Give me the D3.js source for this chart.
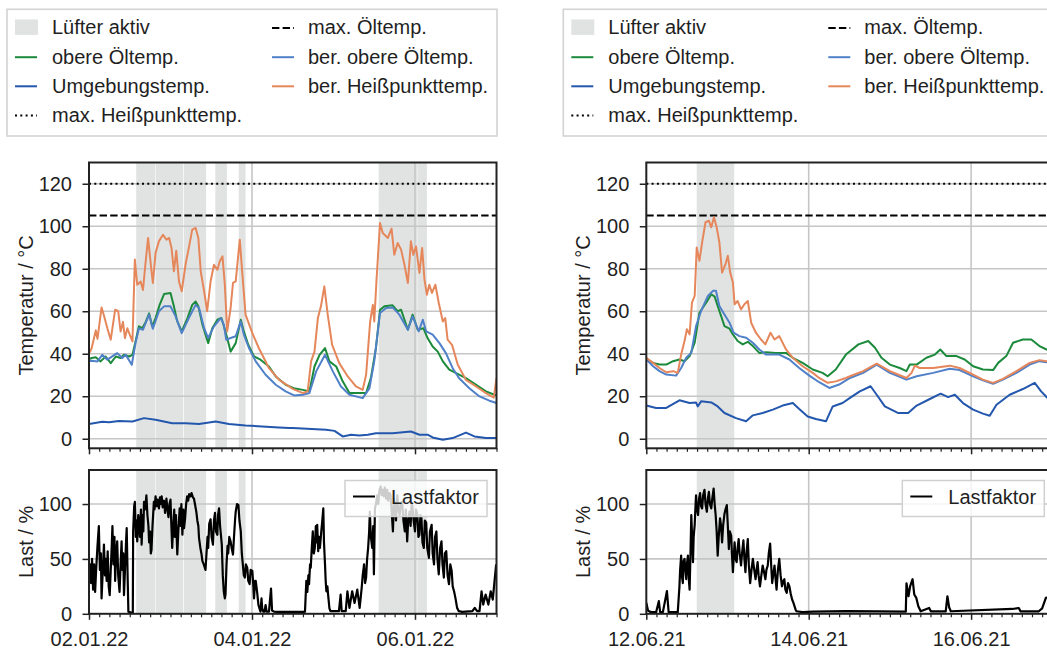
<!DOCTYPE html>
<html><head><meta charset="utf-8">
<script src="https://cdn.jsdelivr.net/npm/d3@7"></script>
<style>
body{margin:0;background:#fff}
svg{display:block}
text{font-family:"Liberation Sans",Arial,Helvetica,sans-serif;fill:#1f1f1f}
</style>
</head><body>
<svg id="chart" width="1047" height="650"></svg>
<script>
// ---------- DATA (hour offset from first tick, value) ----------
const leftTickLabels  = ["02.01.22","04.01.22","06.01.22"];
const rightTickLabels = ["12.06.21","14.06.21","16.06.21"];
const tempTicks = [0,20,40,60,80,100,120];
const loadTicks = [0,50,100];
const maxOilTemp = 105;
const maxHotTemp = 120;

const legendLabels = ["Lüfter aktiv","obere Öltemp.","Umgebungstemp.","max. Heißpunkttemp.","max. Öltemp.","ber. obere Öltemp.","ber. Heißpunkttemp."];
const loadLegendLabel = "Lastfaktor";

// fan active spans [startHour, endHour]
const leftFan  = [[13.9,19.5],[19.65,27.7],[27.9,34.5],[37.2,40.6],[44.1,46.1],[85.3,96.8],[96.9,99.5]];
const rightFan = [[14.9,26.0]];

// Left (January) ---------------------------------------------
const leftOil = [[0,37.5],[0.8,38],[2,38.3],[3.4,36.4],[4.9,38.7],[6.4,35.6],[7.9,38.7],[9.3,38],[10.3,39.5],[11.8,38.7],[12.8,39.5],[13.7,45.8],[14.7,52.9],[15.7,52],[16.7,55],[17.7,59],[18.6,52.9],[19.6,56.8],[20.8,63],[22.1,68.1],[24,68.6],[25,62.3],[26,55.2],[27.3,50.5],[29,56.8],[30.4,63],[31.4,64.6],[32.2,62.3],[33.4,53.7],[35.1,45],[36.3,52],[37.8,56],[39,56.8],[40.2,50.5],[41.7,41],[43.2,45],[44.7,56],[45.6,50.5],[46.9,44.2],[48.6,38.7],[50.5,37.2],[53,34],[55,29.3],[57.9,25.4],[60.3,23.8],[63,23],[64.9,22.3],[66.4,34],[67.9,39.5],[69.5,42.7],[70.8,36.4],[72.8,34],[74.7,27],[76.7,21.5],[79.6,21.5],[81.6,21.5],[83,28.5],[84.5,42.7],[85.7,60.7],[87,62.3],[89.4,62.8],[90.9,60],[91.9,60.7],[93.9,51.3],[95.3,58.4],[96.8,51.3],[98.5,52],[99.7,47.4],[101.2,43.4],[102.7,41],[104.2,36.4],[106.1,32.5],[108.1,30.9],[111,28.5],[114,25.4],[116.9,22.3],[119.4,20.7],[120,20.5]];
const leftAmb = [[0,6.9],[3.9,8],[5.9,7.8],[8.8,8.4],[12.8,8.1],[16.2,9.7],[19.6,8.9],[24.5,7.3],[28.5,7.3],[32.4,6.9],[37.3,8.1],[41.2,6.9],[46.1,6.2],[51,5.8],[55.9,5.3],[58.9,5],[60,5],[69.8,4.2],[72.3,3.7],[74.7,1.1],[77.2,1.9],[79.6,1.5],[82.1,1.9],[84.5,2.6],[89.4,2.6],[94.8,3.4],[97.3,1.9],[99.7,1.9],[101.2,0.6],[104.2,-0.5],[107.1,0.3],[111,2.9],[113.5,1.1],[116.9,0.3],[120,0.3]];
const leftCalcOil = [[0,36.5],[0.8,36.7],[2.5,36.4],[3.9,39.5],[5.4,37.2],[8.3,40.3],[9.8,38],[10.8,39.5],[12.6,34.8],[13.7,45],[14.7,52],[15.9,51.3],[17.7,58.4],[18.8,51.8],[20.6,60],[22.1,62.3],[24,62.3],[25.5,57.6],[27.3,49.7],[29.4,56.8],[31.4,63],[32.4,61.5],[33.9,52],[35.1,47.4],[36.8,52.9],[38.8,56.8],[39.7,53.7],[40.4,46.6],[41.7,47.4],[43.2,48.2],[44.7,55.2],[45.6,49],[47.1,42.7],[49.1,36.4],[52,30.1],[55,25.4],[57.9,22.3],[60.4,20.4],[63,20.7],[64.9,21.5],[66.9,31.7],[69.5,39.5],[71.8,31.7],[74.2,24.6],[76.7,20.7],[80.6,19.1],[82.6,23.8],[84,36.4],[85.7,59.2],[87.5,61.5],[89.4,61.8],[91.4,58.4],[93.9,51.3],[95.3,57.6],[97.1,50.5],[98.3,56],[99.3,50.5],[101.2,49],[103.2,45],[105.1,40.3],[107.1,33.2],[109,28.5],[112,23.8],[115,19.9],[117.9,17.9],[120,16.8]];
const leftCalcHot = [[0,40],[0.8,42.7],[2,51],[2.5,47],[3.7,61.8],[4.4,58],[5.4,52],[6.4,46.6],[7.7,60.7],[8.6,60],[9.3,50.5],[10,55],[10.6,47.4],[11.3,52],[12,49],[12.8,45.8],[13.5,84.3],[14.2,72.5],[15.2,74],[15.9,70],[16.5,80.3],[17.4,94.5],[18.2,82],[18.8,73.3],[19.6,87.4],[20.6,93],[21.8,96],[22.8,93.7],[23.6,94.5],[24.3,89.8],[25,78.8],[25.7,88.5],[26.5,74],[27.3,69.4],[28.5,82.7],[29.4,89.8],[30.4,98.4],[31.4,99.2],[32.2,94.5],[32.9,78.8],[33.9,69.4],[34.8,60],[35.8,74],[36.8,81.9],[37.8,79.5],[38.5,83.5],[39.3,85.8],[40,72.5],[40.7,50.5],[41.7,61.5],[42.4,73.3],[43.2,74],[44.4,93.7],[45.1,78.8],[46.1,58.4],[48.1,49.7],[50,42.7],[53,33.2],[56,27.7],[60,23.5],[63,21.5],[64.4,22.3],[65.4,36.4],[66.4,41],[67.4,56.8],[68.3,62.3],[69.3,71.7],[70.3,58.4],[71.6,44.2],[73.7,35.6],[76.2,29.3],[78.6,24.6],[80.6,23],[81.6,30.1],[82.8,55.2],[83.6,63],[84,55.2],[84.7,75.6],[85.7,101.5],[86.5,96.8],[88,94.5],[89.1,98.9],[89.9,86.6],[90.9,92.1],[91.9,89],[92.9,81.9],[93.9,73.3],[94.8,92.9],[95.5,86.6],[96.3,90.5],[97.3,78],[98.1,89.8],[98.8,74.8],[99.5,67.8],[100.2,72.5],[101,68.6],[102,72.5],[103,63.9],[104.2,55.2],[104.9,56.8],[105.6,46.6],[106.9,44.2],[108.6,34.8],[111,27.7],[114,24.6],[116.9,21.5],[119.2,19.4],[120,28.5]];
const leftLoad = [[0,30],[0.3,45],[0.6,28],[0.9,50],[1.2,22],[1.5,45],[1.8,20],[2.1,40],[2.5,62],[2.9,80],[3.2,40],[3.5,55],[3.7,14],[4,35],[4.4,63],[4.7,35],[4.9,50],[5.2,30],[5.5,57],[5.8,25],[6.1,17],[6.4,40],[6.7,62],[6.9,80],[7.2,45],[7.5,70],[7.7,30],[8,55],[8.3,66],[8.6,35],[9,20],[9.3,45],[9.6,66],[9.8,40],[10.1,55],[10.3,17],[10.6,40],[10.9,65],[11.1,78],[11.4,30],[11.6,2],[12.5,1],[12.9,1],[13,75],[13.3,98],[13.5,102],[13.8,70],[14,85],[14.2,66],[14.5,90],[14.7,84],[15,70],[15.3,95],[15.5,63],[15.8,90],[16,75],[16.2,102],[16.5,95],[16.9,108],[17.2,90],[17.5,80],[17.7,65],[18,75],[18.2,55],[18.4,58],[18.7,80],[19.1,102],[19.3,95],[19.6,107],[19.9,98],[20.2,104],[20.6,96],[20.9,106],[21.1,100],[21.4,107],[21.7,97],[22.1,103],[22.4,92],[22.8,105],[23.1,95],[23.4,88],[23.7,100],[24,104],[24.2,85],[24.5,60],[24.8,80],[25.1,95],[25.3,70],[25.6,90],[26,54],[26.3,75],[26.7,96],[27,80],[27.2,100],[27.5,72],[27.8,95],[28,78],[28.3,87],[28.6,100],[28.9,107],[29.2,103],[29.5,109],[29.9,107],[30.2,110],[30.6,106],[30.9,105],[31.2,100],[31.6,93],[31.9,85],[32.2,80],[32.4,69],[32.8,60],[33.1,55],[33.4,48],[33.8,45],[34.3,40],[34.6,55],[34.9,70],[35.1,60],[35.4,82],[35.8,86],[36.1,70],[36.5,63],[36.8,85],[37.1,92],[37.4,75],[37.8,72],[38,90],[38.3,96],[38.6,80],[38.9,70],[39.1,63],[39.4,35],[39.7,20],[40,14],[40.2,18],[40.5,45],[40.8,62],[41,55],[41.3,70],[41.7,66],[42,60],[42.4,54],[42.7,70],[43,85],[43.2,93],[43.6,100],[44,99],[44.3,85],[44.7,75],[45,55],[45.3,45],[45.6,35],[45.9,33],[46.2,45],[46.6,42],[46.9,30],[47.3,27],[47.6,40],[48.1,39],[48.4,25],[48.6,14],[48.9,30],[49.1,30],[49.5,20],[49.9,8],[50.2,5],[50.5,2],[50.8,14],[51,5],[51.3,2],[51.7,2],[52,8],[52.3,2],[53,2],[53.6,23],[53.9,3],[54.5,2],[55.4,1.8],[58.9,1.8],[63.6,1.8],[64,30],[64.3,20],[64.6,35],[64.8,27],[65.1,45],[65.3,42],[65.6,60],[65.9,75],[66.2,55],[66.5,60],[66.8,80],[67,65],[67.2,81],[67.5,57],[67.7,70],[68,60],[68.4,75],[68.7,85],[69,96],[69.2,65],[69.5,45],[69.7,30],[69.9,20.5],[70.2,25],[70.5,14.5],[70.8,5],[71.1,2.4],[73.6,2.4],[74.1,17.5],[74.4,2.4],[75.6,2.4],[76.1,20.5],[76.7,5.4],[77.5,20.5],[78.2,9.9],[79,22],[79.7,5.4],[80.3,23.6],[80.6,35],[81,45],[81.3,28],[81.6,33],[81.9,50],[82.2,60],[82.5,75],[82.7,93],[83,70],[83.4,60],[83.7,80],[83.9,36],[84.2,96],[84.5,100],[84.9,108],[85.2,100],[85.5,112],[85.9,116],[86.2,108],[86.5,113],[86.8,107],[87.1,115],[87.5,105],[87.8,113],[88.1,103],[88.5,110],[88.8,108],[89.1,95],[89.5,75],[89.8,105],[90.1,99],[90.4,85],[90.8,108],[91.1,95],[91.5,90],[91.8,100],[92.2,102],[92.6,85],[93,75],[93.3,95],[93.7,66],[94,85],[94.4,93],[94.7,80],[95,99],[95.2,99],[95.6,85],[96,75],[96.3,95],[96.7,90],[97,70],[97.3,72],[97.6,90],[97.9,87],[98.2,65],[98.6,60],[98.9,85],[99.3,83],[99.6,60],[100.1,51],[100.4,75],[100.9,81],[101.2,55],[101.6,45],[101.9,70],[102.3,75],[102.6,50],[103,36],[103.4,60],[103.8,66],[104.1,45],[104.5,33],[104.8,55],[105.2,57],[105.6,35],[106,27],[106.4,45],[106.8,39],[107.1,25],[107.5,20.5],[107.9,14.5],[108.4,5.4],[108.9,2.4],[109.9,1.8],[112.9,2.4],[113.6,5.4],[114.3,2.4],[115,2.4],[115.6,20.5],[116.1,8.4],[116.8,17.5],[117.6,8.4],[118.3,20.5],[118.9,13],[119.9,45]];

// Right (June) -----------------------------------------------
const rightOil = [[0,37.6],[2,35.7],[3.9,34.9],[5.9,34.9],[7.9,36.5],[9.8,37.3],[11.3,36.5],[12.8,38.9],[14.3,45.2],[15.7,59.3],[17.7,64],[19.2,68],[20.2,66.9],[21.1,62.5],[22.1,57.8],[23.1,53],[24.6,51.8],[25.6,49.1],[27,46],[28.5,44.4],[30,45.6],[31.5,43.6],[33.4,40.4],[35.4,40.7],[38.3,40.4],[41.3,40.4],[43.3,38.1],[46.2,35.7],[49.2,32.6],[52.1,31],[53.6,29.4],[56,32.6],[59,39.6],[60.2,41.2],[62.7,44.4],[65.6,46],[67.6,42.8],[69.5,38.1],[72,34.9],[74.9,33.3],[76.9,31.8],[77.9,34.9],[79.9,34.9],[82.8,38.1],[85.3,39.6],[86.9,42],[88.7,38.9],[91.7,38.9],[94.1,37.3],[96.6,34.1],[99.5,32.6],[102.5,32.3],[104,35.7],[106.4,38.9],[108.4,45.2],[111.3,46.7],[113.8,46.7],[116.2,43.6],[118.3,42],[120,41.5]];
const rightAmb = [[0,15.6],[2.9,14.5],[5.9,14.5],[9.8,18.1],[12.8,16.8],[14.7,17.1],[15.2,15.2],[16.2,17.6],[19.2,17.1],[21.1,15.2],[23.1,12.1],[26.5,9.7],[29.5,8.2],[31.5,11],[34.4,12.1],[37.4,13.7],[40.3,15.6],[43.3,16.8],[45.2,14],[47.7,10.5],[50.1,9.3],[53.1,8.2],[55.1,15.2],[58,16.8],[60.2,19.2],[63.1,22.3],[66.3,24.7],[68.1,20.7],[70.5,15.2],[74.5,12.1],[77.4,12.1],[79.9,15.6],[83.8,18.7],[87,21.2],[89.2,19.6],[91.2,20.7],[93.6,16.8],[96.6,13.7],[99.5,11.8],[101.5,10.8],[103.5,16],[107.4,20.7],[111.3,23.4],[114.8,26.3],[116.7,22.3],[118.3,19.6],[120,17.5]];
const rightCalcOil = [[0,37.3],[2,34.1],[3.9,31.8],[5.9,30.2],[8.8,29.7],[10.3,33.3],[11.8,38.1],[13.3,40.4],[14.7,53],[16.2,60.1],[18.2,67.2],[19.7,69.6],[20.6,69.6],[21.6,62.5],[23.1,58.5],[24.6,54.6],[25.8,49.9],[27.5,48.3],[29.5,47.5],[31.5,45.2],[33.4,42],[35.4,39.6],[39.3,39.6],[42.3,37.3],[45.2,33.3],[48.2,29.7],[51.1,26.6],[54.1,23.9],[57,25.5],[60.2,28.6],[64.1,31],[68.1,34.9],[72,31],[76.9,27.8],[79.9,29.4],[84.8,31],[89.7,32.9],[92.6,32.3],[96.6,29.4],[99.5,27.5],[102.5,25.9],[105.4,27.8],[109.4,31],[113.3,34.9],[116.2,36.5],[118.3,36],[120,35.8]];
const rightCalcHot = [[0,38.1],[2,35.7],[3.9,33.3],[5.9,31.3],[7.9,31.8],[9.3,31],[10.3,39.6],[11.3,46],[12,51.5],[12.8,49.1],[13.5,64],[14.3,67.2],[14.9,90],[15.7,83.7],[16.5,92.4],[17.5,101.9],[18.5,102.6],[19.2,99.5],[20,104.2],[20.8,99.5],[21.6,92.4],[22.4,78.2],[23.4,82.2],[24.1,86.1],[24.8,78.2],[25.6,73.5],[26.1,63.3],[27,64.8],[28,60.9],[29,63.3],[30,64.8],[31,54.6],[32.4,49.9],[33.9,46.7],[35.2,44.4],[36.7,49.9],[37.9,46.7],[39.3,48.3],[41.3,42],[43.3,38.1],[46.2,34.1],[49.2,31],[51.1,28.6],[53.6,26.3],[56,27],[59,28.6],[60.2,29.4],[64.1,31.8],[68.1,35.4],[72,31.8],[76.9,28.6],[78.4,31],[79.4,34.4],[80.8,33.3],[84.8,33.3],[89.7,34.4],[92.6,33.3],[96.6,30.2],[99.5,27.8],[102.5,26.3],[105.4,28.2],[109.4,31.8],[113.3,35.7],[116.2,37],[118.3,36.5],[120,36.3]];
const rightLoad = [[0,10],[0.5,3],[1,2],[1.5,1.5],[2.9,1.5],[3.7,11.5],[4.1,1.5],[4.9,1.5],[6.1,20.7],[6.6,1.5],[9.3,1.5],[9.8,25],[10,40],[10.3,53],[10.5,35],[10.8,28],[11,48],[11.3,50],[11.6,38],[11.8,31.5],[12,45],[12.3,53],[12.6,30],[12.8,22],[13.1,60],[13.3,90],[13.6,65],[13.8,47],[14,70],[14.3,81],[14.5,95],[14.7,108],[15,95],[15.3,90],[15.6,105],[15.9,110],[16.2,98],[16.5,96],[16.8,108],[17.2,113],[17.5,100],[17.9,93],[18.2,105],[18.5,111],[18.8,100],[19.2,96],[19.5,105],[19.9,114],[20.2,100],[20.5,90],[20.8,75],[21.1,53],[21.4,70],[21.8,87],[22.1,80],[22.4,65],[22.7,80],[23.1,91],[23.4,95],[23.8,99],[24.1,80],[24.4,59],[24.7,75],[25.1,71],[25.3,55],[25.6,38],[25.9,55],[26.1,65],[26.4,50],[26.7,47],[27,60],[27.3,68],[27.6,55],[28,44],[28.3,55],[28.7,67],[29,50],[29.3,38],[29.6,55],[30,68],[30.3,45],[30.7,28],[31.1,40],[31.5,50],[31.9,40],[32.3,31.5],[32.6,40],[32.9,47],[33.2,35],[33.6,25],[34,35],[34.4,44],[34.8,38],[35.2,31.5],[35.5,40],[35.9,44],[36.2,55],[36.6,64],[36.9,45],[37.2,28],[37.5,35],[37.9,44],[38.2,32],[38.5,22],[38.9,40],[39.3,50],[39.7,35],[40.1,25],[40.5,30],[40.8,31.5],[41.1,22],[41.5,19],[41.9,28],[42.3,25],[42.7,18],[43.1,13],[43.5,10],[43.8,7],[44.1,4],[44.4,2.3],[46.2,1.6],[49.2,2],[59,2.5],[68.8,2.3],[76.7,2],[76.9,27.8],[77.5,16],[78,25.3],[78.7,31.5],[79.2,17.6],[79.8,14.5],[80.4,6.9],[81.1,2.3],[83.6,5.3],[84.1,2.3],[88.5,2.3],[89,16],[89.5,6],[90,2.3],[108.2,4.4],[110.1,5.3],[110.6,2.3],[116,2.3],[117,5],[118.1,14.5],[120,16]];

// ---------- DRAWING ----------
const svg = d3.select("#chart");
const parseTick = d3.utcParse("%d.%m.%y");
const fmtTick = d3.utcFormat("%d.%m.%y");
const C = {oil:"#1b8a3b", amb:"#2357ad", calcOil:"#5080c8", hot:"#e5875b", fan:"#e1e3e3", grid:"#c6c6c6", ink:"#222"};

function drawSet(cfg){
  const PW = cfg.width;
  const L = cfg.left, R = L + PW;
  const start = parseTick(cfg.ticks[0]);
  const toDate = h => new Date(start.getTime() + h*3600e3);
  const x = d3.scaleUtc().domain([start, toDate(120)]).range([L, R]);
  const majors = cfg.ticks.map(parseTick);
  const minors = d3.utcHour.every(3).range(start, toDate(120.01));

  const panels = [
    {key:"top", y: d3.scaleLinear().domain([-4.5,130]).range([448.3,162.5]), ticks: tempTicks, label:"Temperatur / °C", showX:false},
    {key:"bot", y: d3.scaleLinear().domain([0,131]).range([613.8,470]), ticks: loadTicks, label:"Last / %", showX:true}
  ];

  panels.forEach(p => {
    const y = p.y, T = y.range()[1], B = y.range()[0];
    const clipId = "clip-" + cfg.id + "-" + p.key;
    svg.append("clipPath").attr("id", clipId).append("rect")
      .attr("x", L).attr("y", T).attr("width", PW).attr("height", B - T);
    const g = svg.append("g");
    const pg = g.append("g").attr("clip-path", `url(#${clipId})`);

    pg.selectAll("rect.fan").data(cfg.fan).join("rect")
      .attr("x", d => x(toDate(d[0]))).attr("width", d => x(toDate(d[1])) - x(toDate(d[0])))
      .attr("y", T).attr("height", B - T).attr("fill", C.fan);
    pg.selectAll("line.gy").data(p.ticks).join("line")
      .attr("x1", L).attr("x2", R).attr("y1", d => y(d)).attr("y2", d => y(d))
      .attr("stroke", C.grid).attr("stroke-width", 1.6);
    pg.selectAll("line.gx").data(majors).join("line")
      .attr("x1", d => x(d)).attr("x2", d => x(d)).attr("y1", T).attr("y2", B)
      .attr("stroke", C.grid).attr("stroke-width", 1.6);

    const line = d3.line().x(d => x(toDate(d[0]))).y(d => y(d[1]));
    const addLine = (data, color, w) => pg.append("path").datum(data).attr("d", line)
      .attr("fill","none").attr("stroke", color).attr("stroke-width", w).attr("stroke-linejoin","round");

    if (p.key === "top") {
      addLine(cfg.oil, C.oil, 2);
      addLine(cfg.amb, C.amb, 2);
      pg.append("line").attr("x1",L).attr("x2",R).attr("y1",y(maxHotTemp)).attr("y2",y(maxHotTemp))
        .attr("stroke","#000").attr("stroke-width",2).attr("stroke-dasharray","2,3.3");
      pg.append("line").attr("x1",L).attr("x2",R).attr("y1",y(maxOilTemp)).attr("y2",y(maxOilTemp))
        .attr("stroke","#000").attr("stroke-width",2).attr("stroke-dasharray","7.4,3.2");
      addLine(cfg.calcOil, C.calcOil, 2);
      addLine(cfg.hot, C.hot, 2);
    } else {
      addLine(cfg.load, "#000", 2.2);
    }

    g.append("rect").attr("x", L).attr("y", T).attr("width", PW).attr("height", B - T)
      .attr("fill","none").attr("stroke", C.ink).attr("stroke-width", 2);

    const ya = g.append("g").attr("transform", `translate(${L},0)`)
      .call(d3.axisLeft(y).tickValues(p.ticks).tickSize(6.5).tickPadding(10.5));
    ya.select(".domain").remove();
    ya.selectAll("line").attr("stroke", C.ink).attr("stroke-width", 1.5);
    ya.selectAll("text").attr("font-size", 20).attr("font-family", null).attr("fill", "#1f1f1f");

    const xa = g.append("g").attr("transform", `translate(0,${B})`)
      .call(d3.axisBottom(x).tickValues(majors).tickSize(6).tickPadding(12)
        .tickFormat(p.showX ? fmtTick : () => ""));
    xa.select(".domain").remove();
    xa.selectAll("line").attr("stroke", C.ink).attr("stroke-width", 1.5);
    xa.selectAll("text").attr("font-size", 20).attr("font-family", null).attr("fill", "#1f1f1f");
    const xm = g.append("g").attr("transform", `translate(0,${B})`)
      .call(d3.axisBottom(x).tickValues(minors.filter(d => !majors.some(m => +m === +d))).tickSize(3.5).tickFormat(() => ""));
    xm.select(".domain").remove();
    xm.selectAll("line").attr("stroke", C.ink).attr("stroke-width", 1.2);

    g.append("text").attr("transform", `translate(${L - 56.5},${(T + B) / 2}) rotate(-90)`)
      .attr("text-anchor","middle").attr("font-size", 20).text(p.label);

    if (p.key === "bot") {
      const bx = L + 256, by = 480.5;
      g.append("rect").attr("x", bx).attr("y", by).attr("width", 142).attr("height", 36)
        .attr("fill","rgba(255,255,255,0.8)").attr("stroke","#d0d0d0").attr("stroke-width",1.5);
      g.append("line").attr("x1", bx + 8).attr("x2", bx + 30).attr("y1", by + 16).attr("y2", by + 16)
        .attr("stroke","#000").attr("stroke-width",2);
      g.append("text").attr("x", bx + 46).attr("y", by + 23.5).attr("font-size", 20).text(loadLegendLabel);
    }
  });

  const lx = cfg.legendX, ly = 9.3;
  const lg = svg.append("g");
  lg.append("rect").attr("x", lx).attr("y", ly).attr("width", 490).attr("height", 126.7)
    .attr("fill","#fff").attr("stroke","#d3d3d3").attr("stroke-width",1.6);
  const items = [
    {t:"patch"},{t:"line",c:C.oil},{t:"line",c:C.amb},{t:"line",c:"#000",dash:"2,3.3"},
    {t:"line",c:"#000",dash:"7.4,3.2"},{t:"line",c:C.calcOil},{t:"line",c:C.hot}
  ];
  items.forEach((it,i) => {
    const col = i < 4 ? 0 : 1, row = i < 4 ? i : i - 4;
    const base = 34.4 + row * 29.1;
    const mx = lx + (col ? 265 : 8), tx = lx + (col ? 301 : 45);
    if (it.t === "patch") {
      lg.append("rect").attr("x", mx).attr("y", base - 15).attr("width", 23).attr("height", 15.5).attr("fill", C.fan);
    } else {
      const ln = lg.append("line").attr("x1", mx).attr("x2", mx + 22).attr("y1", base - 6.3).attr("y2", base - 6.3)
        .attr("stroke", it.c).attr("stroke-width", 2);
      if (it.dash) ln.attr("stroke-dasharray", it.dash);
    }
    lg.append("text").attr("x", tx).attr("y", base).attr("font-size", 20).text(legendLabels[i]);
  });
}

drawSet({id:"l", left:89, width:407.5, legendX:7, ticks:leftTickLabels, fan:leftFan,
  oil:leftOil, amb:leftAmb, calcOil:leftCalcOil, hot:leftCalcHot, load:leftLoad});
drawSet({id:"r", left:646.3, width:406, legendX:563.3, ticks:rightTickLabels, fan:rightFan,
  oil:rightOil, amb:rightAmb, calcOil:rightCalcOil, hot:rightCalcHot, load:rightLoad});
</script>
</body></html>
